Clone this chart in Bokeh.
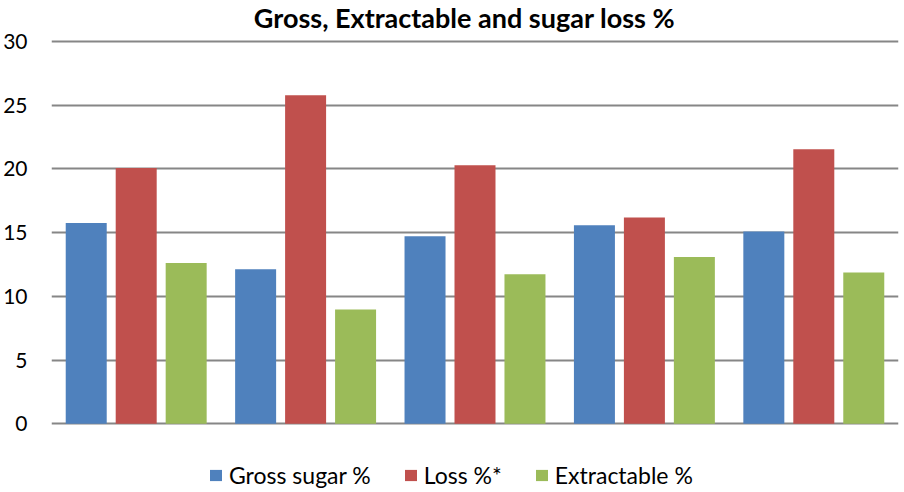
from bokeh.plotting import figure
from bokeh.models import Range1d, FactorRange, Legend, LegendItem, FixedTicker, Label
from bokeh.transform import dodge
from bokeh.embed import file_html
from bokeh.resources import INLINE
from bokeh.models import ColumnDataSource

groups = ["1", "2", "3", "4", "5"]
gross = [15.76, 12.12, 14.71, 15.58, 15.10]
loss = [20.08, 25.79, 20.29, 16.20, 21.55]
extractable = [12.62, 8.98, 11.73, 13.09, 11.88]
series_names = ["Gross sugar %", "Loss %*", "Extractable %"]
colors = ["#4F81BD", "#C0504D", "#9BBB59"]
y_ticks = [0, 5, 10, 15, 20, 25, 30]
title_text = "Gross, Extractable and sugar loss %"

src = ColumnDataSource(dict(g=groups, gross=gross, loss=loss, ext=extractable))

FONT = "Lato"

# frame spans the whole figure height; the value axis 0..30 sits in its middle part
p = figure(width=904, height=492, x_range=FactorRange(*groups, range_padding=0),
           y_range=Range1d(-5.39, 33.22), output_backend="svg", toolbar_location=None,
           min_border_left=50, min_border_right=6, min_border_top=0, min_border_bottom=0)
p.title = None

r1 = p.vbar(x=dodge("g", -0.295, range=p.x_range), top="gross", bottom=0, width=0.242, source=src,
            color=colors[0], line_color=None)
r2 = p.vbar(x=dodge("g", 0.0, range=p.x_range), top="loss", bottom=0, width=0.242, source=src,
            color=colors[1], line_color=None)
r3 = p.vbar(x=dodge("g", 0.295, range=p.x_range), top="ext", bottom=0, width=0.242, source=src,
            color=colors[2], line_color=None)

p.outline_line_color = None
p.xgrid.grid_line_color = None
p.ygrid.ticker = FixedTicker(ticks=y_ticks)
p.ygrid.grid_line_color = "#868686"
p.ygrid.grid_line_width = 2
p.ygrid.level = "underlay"
p.xaxis.visible = False
p.yaxis.ticker = FixedTicker(ticks=y_ticks)
p.yaxis.axis_line_color = None
p.yaxis.major_tick_line_color = None
p.yaxis.minor_tick_line_color = None
p.yaxis.major_tick_out = 0
p.yaxis.major_label_standoff = 24
p.yaxis.major_label_text_font = FONT
p.yaxis.major_label_text_font_size = "21px"
p.yaxis.major_label_text_color = "#000000"

title = Label(x=413, y=475, x_units="screen", y_units="screen", text=title_text,
              text_align="center", text_baseline="middle", text_font=FONT,
              text_font_size="27px", text_font_style="bold", text_color="#000000")
p.add_layout(title)

legend = Legend(items=[LegendItem(label=series_names[0], renderers=[r1]),
                       LegendItem(label=series_names[1], renderers=[r2]),
                       LegendItem(label=series_names[2], renderers=[r3])],
                orientation="horizontal", location=(157, 3),
                glyph_width=15, glyph_height=14, label_standoff=6, spacing=32,
                label_text_font=FONT, label_text_font_size="23px", label_text_color="#000000",
                border_line_color=None, background_fill_alpha=0, padding=0, margin=0)
p.add_layout(legend, "center")

open("out.html", "w").write(file_html(p, INLINE))
